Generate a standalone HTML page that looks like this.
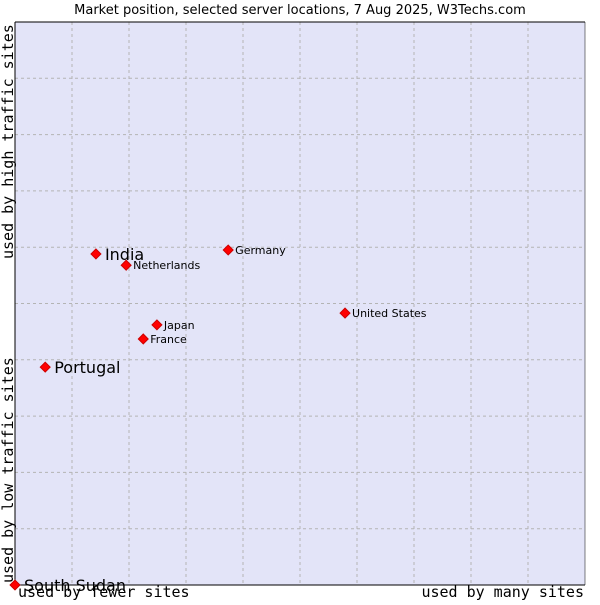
<!DOCTYPE html>
<html><head><meta charset="utf-8"><style>
body{margin:0;background:#fff;}
svg text{font-family:"DejaVu Sans","Liberation Sans",sans-serif;}
.mono{font-family:"DejaVu Sans Mono","Liberation Mono",monospace;}
</style></head><body>
<svg width="600" height="600" viewBox="0 0 600 600">
<text x="300" y="14" text-anchor="middle" font-size="13" fill="#000">Market position, selected server locations, 7 Aug 2025, W3Techs.com</text>
<rect x="15" y="22" width="570" height="563" fill="#e3e4f8"/>
<g id="grid"></g>
<line x1="15" y1="22" x2="585" y2="22" stroke="#000"/>
<line x1="15" y1="22" x2="15" y2="585" stroke="#000"/>
<line x1="15" y1="585" x2="585" y2="585" stroke="#000"/>
<line x1="585" y1="22" x2="585" y2="585" stroke="#000" stroke-width="0.5"/>
<g id="points"></g>
<text class="mono" x="18" y="597" font-size="15">used by fewer sites</text>
<text class="mono" x="584" y="597" font-size="15" text-anchor="end">used by many sites</text>
<text class="mono" transform="translate(13,583) rotate(-90)" font-size="15">used by low traffic sites</text>
<text class="mono" transform="translate(13,259) rotate(-90)" font-size="15">used by high traffic sites</text>
</svg>
<script>
const names=["India","Netherlands","Germany","United States","Japan","France","Portugal","South Sudan"];
const xs=[14.2,19.5,37.4,57.9,24.9,22.5,5.3,0];
const ys=[58.8,56.8,59.5,48.3,46.2,43.7,38.7,0];
const big=[true,false,false,false,false,false,true,true];
const ns="http://www.w3.org/2000/svg";
const L=15,T=22,W=570,H=563;
const sx=v=>L+v/100*W, sy=v=>T+H-v/100*H;
const grid=document.getElementById('grid');
for(let i=1;i<10;i++){
 const a=document.createElementNS(ns,'line');
 a.setAttribute('x1',sx(i*10));a.setAttribute('x2',sx(i*10));a.setAttribute('y1',T);a.setAttribute('y2',T+H);
 a.setAttribute('stroke','#b4b4b4');a.setAttribute('stroke-dasharray','3,3');
 
 
 grid.appendChild(a);
 const b=document.createElementNS(ns,'line');
 b.setAttribute('y1',sy(i*10));b.setAttribute('y2',sy(i*10));b.setAttribute('x1',L);b.setAttribute('x2',L+W);
 b.setAttribute('stroke','#b4b4b4');b.setAttribute('stroke-dasharray','3,3');
 
 
 grid.appendChild(b);
}
const pg=document.getElementById('points');
names.forEach((n,i)=>{
 const x=sx(xs[i]),y=sy(ys[i]);
 const p=document.createElementNS(ns,'rect');
 p.setAttribute('x',x-3.5);p.setAttribute('y',y-3.5);p.setAttribute('width',7);p.setAttribute('height',7);
 p.setAttribute('fill','#f00');p.setAttribute('stroke','#c00');
 p.setAttribute('transform',`rotate(45 ${x} ${y})`);
 
 
 pg.appendChild(p);
 const t=document.createElementNS(ns,'text');
 t.setAttribute('x',x+(big[i]?9:7));t.setAttribute('y',y+(big[i]?6:4));
 t.setAttribute('font-size',big[i]?16:11);
 t.textContent=n;
 
 
 pg.appendChild(t);
});
</script>
</body></html>
